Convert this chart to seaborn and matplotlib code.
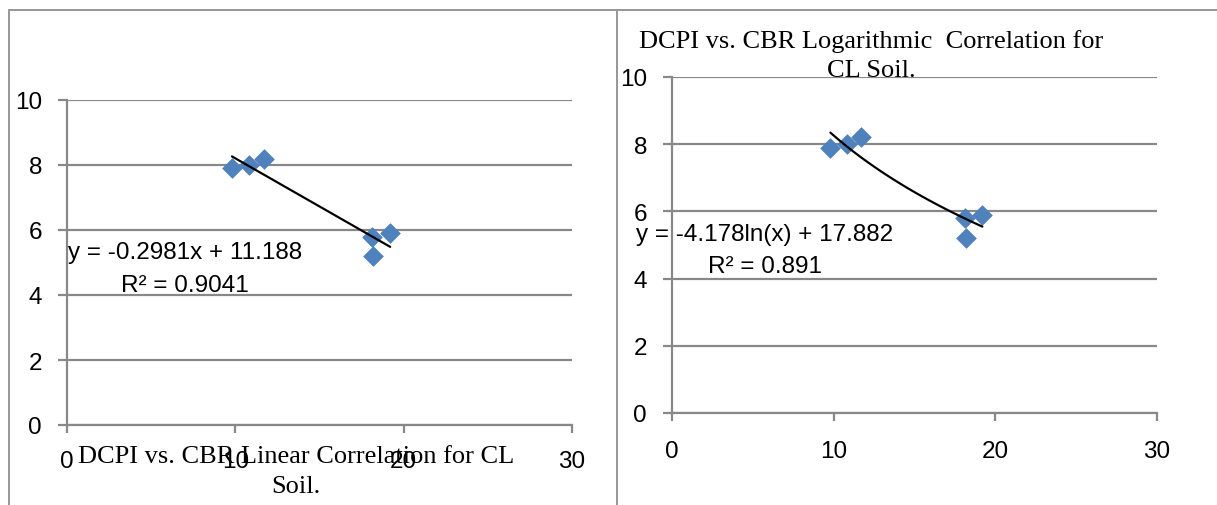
import matplotlib
matplotlib.use("Agg")
import matplotlib.pyplot as plt
import seaborn as sns
import pandas as pd
from matplotlib.lines import Line2D

# ---- data ----
cbr = [9.8, 10.8, 11.7, 18.1, 18.2, 19.2]
dcpi = [7.9, 8.0, 8.2, 5.8, 5.2, 5.9]
x_ticks = [0, 10, 20, 30]
y_ticks = [0, 2, 4, 6, 8, 10]
lin_eq = ["y = -0.2981x + 11.188", "R² = 0.9041"]
log_eq = ["y = -4.178ln(x) + 17.882", "R² = 0.891"]
lin_title = ["DCPI vs. CBR Linear Correlation for CL", "Soil."]
log_title = ["DCPI vs. CBR Logarithmic  Correlation for", "CL Soil."]

df = pd.DataFrame({"CBR": cbr, "DCPI": dcpi})

sns.set_theme(style="white")
plt.rcParams["font.family"] = ["Liberation Sans", "DejaVu Sans"]

W, H = 1217, 506
DPI = 100
fig = plt.figure(figsize=(W / DPI, H / DPI), dpi=DPI)
fig.patch.set_facecolor("white")

def fx(x):
    return x / W

def fy(y):
    return 1 - y / H

GRAY = "#888888"
BLUE = "#4F81BD"
PX = 0.72  # points per pixel
SERIF = ["Liberation Serif", "DejaVu Serif"]
FS = 17.5

def style_axes(ax, xpad_px):
    ax.set_xlim(0, 30)
    ax.set_ylim(0, 10)
    ax.set_xticks(x_ticks)
    ax.set_yticks(y_ticks)
    ax.set_xlabel("")
    ax.set_ylabel("")
    ax.set_facecolor("white")
    ax.grid(False)
    ax.yaxis.grid(True, color=GRAY, linewidth=2.2 * PX)
    ax.set_axisbelow(True)
    for s in ["top", "right"]:
        ax.spines[s].set_visible(False)
    for s in ["left", "bottom"]:
        ax.spines[s].set_visible(True)
        ax.spines[s].set_color(GRAY)
        ax.spines[s].set_linewidth(2.2 * PX)
    ax.tick_params(axis="x", direction="out", length=8 * PX, width=2.2 * PX,
                   color=GRAY, pad=xpad_px * PX, labelsize=FS, labelcolor="#000000",
                   bottom=True)
    ax.tick_params(axis="y", direction="out", length=9 * PX, width=2.2 * PX,
                   color=GRAY, pad=16 * PX, labelsize=FS, labelcolor="#000000",
                   left=True)

scat = {"s": 100, "color": BLUE, "edgecolor": BLUE, "linewidths": 0.5, "alpha": 1}
line = {"color": "black", "linewidth": 2.2 * PX}

# ---- left: linear ----
ax1 = fig.add_axes([fx(67), fy(426), fx(572) - fx(67), fy(101) - fy(426)])
sns.regplot(data=df, x="CBR", y="DCPI", ax=ax1, ci=None, truncate=True,
            marker="D", scatter_kws=scat, line_kws=line)
style_axes(ax1, 17)

# ---- right: logarithmic ----
ax2 = fig.add_axes([fx(672), fy(414), fx(1157) - fx(672), fy(78) - fy(414)])
sns.regplot(data=df, x="CBR", y="DCPI", ax=ax2, ci=None, truncate=True, logx=True,
            marker="D", scatter_kws=scat, line_kws=line)
style_axes(ax2, 19)

# ---- equation labels ----
fig.text(fx(185), fy(259), lin_eq[0], ha="center", va="baseline", fontsize=FS, color="black")
fig.text(fx(185), fy(292), lin_eq[1], ha="center", va="baseline", fontsize=FS, color="black")
fig.text(fx(765), fy(241), log_eq[0], ha="center", va="baseline", fontsize=FS, color="black")
fig.text(fx(765), fy(273), log_eq[1], ha="center", va="baseline", fontsize=FS, color="black")

# ---- titles ----
fig.text(fx(296), fy(463), lin_title[0], ha="center", va="baseline", fontsize=19,
         family=SERIF, color="black")
fig.text(fx(296), fy(493), lin_title[1], ha="center", va="baseline", fontsize=19,
         family=SERIF, color="black")
fig.text(fx(871), fy(48), log_title[0], ha="center", va="baseline", fontsize=19,
         family=SERIF, color="black")
fig.text(fx(871), fy(77), log_title[1], ha="center", va="baseline", fontsize=19,
         family=SERIF, color="black")

# ---- panel borders ----
BCOL = "#999999"
fig.add_artist(Line2D([fx(9), fx(9)], [fy(11), 0], color=BCOL, linewidth=2 * PX))
fig.add_artist(Line2D([fx(9), 1], [fy(11), fy(11)], color=BCOL, linewidth=2 * PX))
fig.add_artist(Line2D([fx(617), fx(617)], [fy(11), 0], color=BCOL, linewidth=2 * PX))

fig.savefig("out.png", dpi=DPI, facecolor="white")
